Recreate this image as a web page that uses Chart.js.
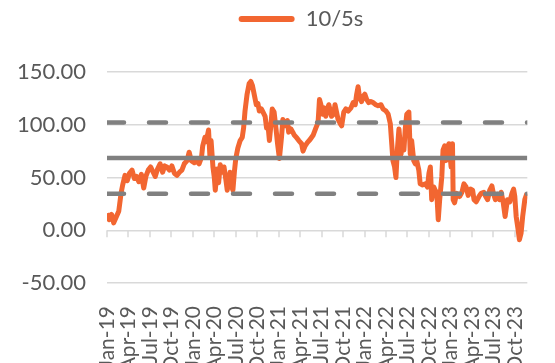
<!DOCTYPE html>
<html>
<head>
<meta charset="utf-8">
<script src="https://cdn.jsdelivr.net/npm/chart.js@4.4.0/dist/chart.umd.min.js"></script>
<style>
  html, body { margin: 0; padding: 0; background: #fff; }
  #wrap { width: 555px; height: 363px; }
</style>
</head>
<body>
<div id="wrap"><canvas id="spreadChart" width="555" height="363"></canvas></div>
<script>
const seriesName = '10/5s';

const dates = [
  '2019-01-01', '2019-01-11', '2019-01-21', '2019-01-30', '2019-02-10', '2019-02-19', '2019-02-28',
  '2019-03-07', '2019-03-17', '2019-03-27', '2019-04-05', '2019-04-16', '2019-04-26', '2019-05-05',
  '2019-05-15', '2019-05-26', '2019-06-05', '2019-06-14', '2019-06-24', '2019-07-04', '2019-07-15',
  '2019-07-24', '2019-08-03', '2019-08-14', '2019-08-25', '2019-09-03', '2019-09-12', '2019-09-23',
  '2019-10-03', '2019-10-14', '2019-10-25', '2019-11-05', '2019-11-15', '2019-11-25', '2019-12-07',
  '2019-12-16', '2019-12-25', '2020-01-07', '2020-01-16', '2020-01-28', '2020-02-07', '2020-02-12',
  '2020-02-21', '2020-02-26', '2020-03-07', '2020-03-13', '2020-03-18', '2020-03-26', '2020-04-01',
  '2020-04-05', '2020-04-13', '2020-04-19', '2020-04-26', '2020-05-04', '2020-05-12', '2020-05-20',
  '2020-05-26', '2020-06-01', '2020-06-07', '2020-06-13', '2020-06-19', '2020-06-25', '2020-07-01',
  '2020-07-10', '2020-07-20', '2020-07-29', '2020-08-04', '2020-08-10', '2020-08-19', '2020-08-28',
  '2020-09-04', '2020-09-11', '2020-09-19', '2020-09-27', '2020-10-04', '2020-10-10', '2020-10-19',
  '2020-10-26', '2020-11-04', '2020-11-10', '2020-11-16', '2020-11-22', '2020-11-28', '2020-12-04',
  '2020-12-12', '2020-12-20', '2020-12-27', '2021-01-04', '2021-01-13', '2021-01-19', '2021-01-28',
  '2021-02-07', '2021-02-12', '2021-02-21', '2021-02-28', '2021-03-07', '2021-03-16', '2021-03-26',
  '2021-04-07', '2021-04-13', '2021-04-22', '2021-05-01', '2021-05-13', '2021-05-26', '2021-06-07',
  '2021-06-16', '2021-06-22', '2021-06-28', '2021-07-04', '2021-07-12', '2021-07-19', '2021-07-26',
  '2021-08-01', '2021-08-13', '2021-08-22', '2021-08-28', '2021-09-10', '2021-09-19', '2021-09-25',
  '2021-10-04', '2021-10-13', '2021-10-23', '2021-11-04', '2021-11-13', '2021-11-22', '2021-11-28',
  '2021-12-04', '2021-12-10', '2021-12-19', '2021-12-26', '2022-01-02', '2022-01-10', '2022-01-19',
  '2022-01-28', '2022-02-06', '2022-02-17', '2022-02-26', '2022-03-10', '2022-03-19', '2022-04-01',
  '2022-04-10', '2022-04-19', '2022-04-25', '2022-04-30', '2022-05-07', '2022-05-13', '2022-05-19',
  '2022-05-26', '2022-06-04', '2022-06-10', '2022-06-16', '2022-06-22', '2022-06-28', '2022-07-07',
  '2022-07-13', '2022-07-19', '2022-07-28', '2022-08-04', '2022-08-10', '2022-08-19', '2022-08-25',
  '2022-09-04', '2022-09-16', '2022-09-25', '2022-10-01', '2022-10-07', '2022-10-13', '2022-10-22',
  '2022-10-28', '2022-11-04', '2022-11-10', '2022-11-16', '2022-11-25', '2022-11-30', '2022-12-07',
  '2022-12-13', '2022-12-19', '2022-12-26', '2023-01-04', '2023-01-10', '2023-01-13', '2023-01-19',
  '2023-01-28', '2023-02-09', '2023-02-18', '2023-02-26', '2023-03-07', '2023-03-16', '2023-03-26',
  '2023-04-04', '2023-04-10', '2023-04-19', '2023-05-01', '2023-05-10', '2023-05-22', '2023-05-30',
  '2023-06-07', '2023-06-16', '2023-06-25', '2023-07-01', '2023-07-10', '2023-07-19', '2023-07-28',
  '2023-08-04', '2023-08-13', '2023-08-21', '2023-08-31', '2023-09-10', '2023-09-19', '2023-09-26',
  '2023-10-01', '2023-10-07', '2023-10-15', '2023-10-21', '2023-10-28', '2023-11-04', '2023-11-13',
  '2023-11-22'
];

const spread = [
  16, 10, 15, 7, 13, 18, 35,
  43, 52, 47, 54, 57, 49, 51,
  46, 53, 40, 51, 57, 60, 55,
  51, 58, 63, 55, 61, 60, 57,
  61, 54, 52, 55, 57, 63, 66,
  74, 66, 64, 66, 63, 69, 80,
  88, 84, 95, 70, 85, 60, 50,
  38, 58, 45, 62, 55, 60, 48,
  38, 45, 55, 42, 38, 55, 68,
  78, 85, 88, 97, 113, 129, 139,
  141, 137, 128, 119, 120, 113, 115,
  112, 108, 97, 100, 85, 99, 115,
  112, 97, 82, 68, 88, 105, 99,
  104, 93, 96, 93, 90, 88, 85,
  82, 75, 80, 83, 86, 90, 97,
  102, 124, 119, 110, 116, 108, 115,
  119, 108, 110, 119, 105, 101, 99,
  112, 115, 113, 116, 121, 119, 129,
  136, 126, 122, 127, 129, 124, 121,
  122, 121, 119, 118, 119, 115, 113,
  110, 101, 82, 66, 60, 50, 76,
  96, 72, 85, 76, 97, 110, 112,
  72, 85, 66, 63, 66, 57, 44,
  43, 44, 41, 54, 60, 29, 41,
  38, 35, 10, 29, 51, 76, 80,
  66, 79, 82, 60, 82, 29, 26,
  35, 32, 36, 44, 41, 33, 39,
  38, 29, 27, 32, 35, 36, 32,
  29, 38, 42, 35, 29, 34, 29,
  36, 26, 13, 29, 27, 35, 39,
  32, 13, 1, -9, -3, 13, 29,
  35
];

// mean and +/- one standard deviation of the spread
const meanLevel = 68.4;
const upperBand = 102.2;
const lowerBand = 34.6;

const tickLabels = [
  'Jan-19', 'Apr-19', 'Jul-19', 'Oct-19', 'Jan-20', 'Apr-20', 'Jul-20', 'Oct-20',
  'Jan-21', 'Apr-21', 'Jul-21', 'Oct-21', 'Jan-22', 'Apr-22', 'Jul-22', 'Oct-22',
  'Jan-23', 'Apr-23', 'Jul-23', 'Oct-23'
];

const orange = '#F26631';
const grey = '#808080';
const gridGrey = '#D9D9D9';
const textGrey = '#595959';
const fontFamily = 'Lato, "Liberation Sans", sans-serif';

// months elapsed since 1 Jan 2019, fractional by day
function monthOffset(str) {
  const [y, m, d] = str.split('-').map(Number);
  const days = new Date(y, m, 0).getDate();
  return (y - 2019) * 12 + (m - 1) + (d - 1) / days;
}

const xMax = 58.75;
const points = dates.map((d, i) => ({ x: monthOffset(d), y: spread[i] }));
const flatLine = v => [{ x: 0, y: v }, { x: xMax, y: v }];

// small tick marks hanging off the zero line
const zeroAxisTicks = {
  id: 'zeroAxisTicks',
  beforeDatasetsDraw(chart) {
    const { ctx, scales: { x, y } } = chart;
    const y0 = y.getPixelForValue(0);
    ctx.save();
    ctx.strokeStyle = gridGrey;
    ctx.lineWidth = 1.5;
    x.ticks.forEach(t => {
      const px = Math.round(x.getPixelForValue(t.value));
      ctx.beginPath();
      ctx.moveTo(px, y0);
      ctx.lineTo(px, y0 + 7);
      ctx.stroke();
    });
    ctx.restore();
  }
};

// extra room under the legend, and nudge it a little to the right
const legendSpacing = {
  id: 'legendSpacing',
  afterInit(chart) {
    const legend = chart.legend;
    const fit = legend.fit;
    legend.fit = function () {
      fit.call(this);
      this.height += 32;
    };
  },
  afterLayout(chart) {
    chart.legend.left += 47;
  }
};

function renderChart() {
  const ctx = document.getElementById('spreadChart').getContext('2d');
  new Chart(ctx, {
    type: 'line',
    data: {
      datasets: [
        {
          label: seriesName,
          data: points,
          borderColor: orange,
          backgroundColor: orange,
          borderWidth: 5,
          pointRadius: 0,
          tension: 0,
          borderJoinStyle: 'round',
          order: 2
        },
        {
          label: 'mean',
          data: flatLine(meanLevel),
          borderColor: grey,
          borderWidth: 4.5,
          pointRadius: 0,
          order: 1
        },
        {
          label: 'upper',
          data: flatLine(upperBand),
          borderColor: grey,
          borderWidth: 4.5,
          borderDash: [17, 25],
          borderCapStyle: 'round',
          pointRadius: 0,
          order: 1
        },
        {
          label: 'lower',
          data: flatLine(lowerBand),
          borderColor: grey,
          borderWidth: 4.5,
          borderDash: [17, 25],
          borderCapStyle: 'round',
          pointRadius: 0,
          order: 1
        }
      ]
    },
    options: {
      responsive: false,
      animation: false,
      devicePixelRatio: 1,
      layout: { padding: { left: 0, right: 0, top: 0, bottom: 0 } },
      plugins: {
        tooltip: { enabled: false },
        legend: {
          position: 'top',
          labels: {
            color: textGrey,
            font: { family: fontFamily, size: 22 },
            boxWidth: 56,
            boxHeight: 6,
            padding: 8,
            useBorderRadius: true,
            borderRadius: 3,
            filter: item => item.datasetIndex === 0,
            generateLabels(chart) {
              const items = Chart.defaults.plugins.legend.labels.generateLabels(chart);
              items.forEach(it => { it.lineWidth = 0; it.fillStyle = orange; });
              return items;
            }
          }
        }
      },
      scales: {
        x: {
          type: 'linear',
          min: 0,
          max: xMax,
          grid: { display: false },
          border: { display: false },
          ticks: {
            stepSize: 3,
            includeBounds: false,
            autoSkip: false,
            minRotation: 90,
            maxRotation: 90,
            padding: 15,
            color: textGrey,
            font: { family: fontFamily, size: 21 },
            callback: v => tickLabels[v / 3] || ''
          },
          afterFit: s => { s.height = 80; }
        },
        y: {
          min: -50,
          max: 150,
          grid: { color: gridGrey, lineWidth: 1.5, drawTicks: false },
          border: { display: false },
          ticks: {
            stepSize: 50,
            padding: 21,
            color: textGrey,
            font: { family: fontFamily, size: 22 },
            callback: v => v.toFixed(2)
          },
          afterFit: s => { s.width = 107; }
        }
      }
    },
    plugins: [zeroAxisTicks, legendSpacing]
  });
}

document.addEventListener('DOMContentLoaded', renderChart);
</script>
</body>
</html>
